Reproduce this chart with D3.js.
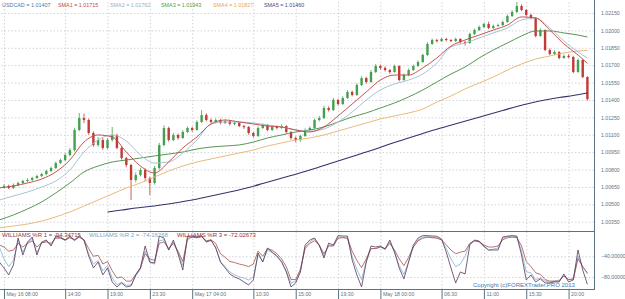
<!DOCTYPE html>
<html><head><meta charset="utf-8">
<script src="https://cdn.jsdelivr.net/npm/d3@7"></script>
<style>
body{margin:0;background:#fff}
svg{display:block}
text{font-family:"Liberation Sans",Arial,sans-serif}
</style>
</head><body>
<svg id="c" width="625" height="299"></svg>
<script>
// ---------------- DATA ----------------
const symbol = "USDCAD";
const firstCandle = new Date(2013, 4, 16, 7, 30);   // 30-minute candles
const open = [
1.00640,1.00649,1.00658,1.00641,1.00666,1.00684,1.00701,1.00710,1.00727,1.00744,
1.00761,1.00787,1.00813,1.00856,1.00882,1.00925,1.00968,1.01141,1.01244,1.01227,
1.01115,1.01011,1.01055,1.00986,1.01055,1.01098,1.00986,1.00899,1.00839,1.00710,
1.00753,1.00796,1.00727,1.00684,1.00813,1.01011,1.01158,1.01055,1.01098,1.01072,
1.01124,1.01158,1.01141,1.01210,1.01270,1.01227,1.01210,1.01227,1.01201,1.01218,
1.01193,1.01201,1.01175,1.01167,1.01115,1.01089,1.01158,1.01184,1.01141,1.01167,
1.01158,1.01175,1.01124,1.01072,1.01055,1.01089,1.01141,1.01158,1.01227,1.01244,
1.01331,1.01313,1.01400,1.01365,1.01417,1.01469,1.01443,1.01529,1.01589,1.01555,
1.01641,1.01693,1.01676,1.01658,1.01641,1.01693,1.01572,1.01615,1.01658,1.01693,
1.01727,1.01788,1.01883,1.01917,1.01908,1.01926,1.01917,1.01908,1.01926,1.01900,
1.01891,1.01969,1.02003,1.02029,1.02055,1.02021,1.02038,1.02046,1.02072,1.02124,
1.02159,1.02210,1.02176,1.02133,1.02107,1.01952,1.02003,1.01831,1.01796,1.01814,
1.01762,1.01779,1.01770,1.01641,1.01745,1.01598];
const high = [
1.00668,1.00672,1.00670,1.00680,1.00695,1.00712,1.00724,1.00738,1.00756,1.00772,
1.00798,1.00826,1.00868,1.00895,1.00940,1.00985,1.01160,1.01288,1.01282,1.01240,
1.01130,1.01080,1.01070,1.01070,1.01167,1.01110,1.01000,1.00910,1.00850,1.00775,
1.00815,1.00810,1.00740,1.00830,1.01030,1.01180,1.01170,1.01115,1.01110,1.01140,
1.01172,1.01170,1.01225,1.01313,1.01285,1.01240,1.01240,1.01238,1.01232,1.01228,
1.01215,1.01210,1.01185,1.01175,1.01125,1.01172,1.01198,1.01192,1.01180,1.01180,
1.01190,1.01182,1.01130,1.01085,1.01100,1.01155,1.01172,1.01240,1.01262,1.01350,
1.01345,1.01418,1.01410,1.01432,1.01485,1.01480,1.01545,1.01605,1.01600,1.01658,
1.01710,1.01705,1.01690,1.01668,1.01705,1.01700,1.01628,1.01672,1.01705,1.01740,
1.01800,1.01898,1.01930,1.01928,1.01938,1.01935,1.01925,1.01938,1.01932,1.01910,
1.01982,1.02015,1.02042,1.02068,1.02075,1.02050,1.02058,1.02085,1.02138,1.02175,
1.02245,1.02225,1.02185,1.02145,1.02115,1.02018,1.02010,1.01845,1.01828,1.01822,
1.01792,1.01795,1.01780,1.01758,1.01752,1.01605];
const low = [
1.00625,1.00638,1.00630,1.00632,1.00655,1.00676,1.00690,1.00702,1.00718,1.00735,
1.00750,1.00778,1.00805,1.00846,1.00870,1.00915,1.00955,1.01130,1.01200,1.01100,
1.00995,1.00998,1.00970,1.00975,1.01040,1.00975,1.00885,1.00820,1.00537,1.00690,
1.00740,1.00700,1.00580,1.00670,1.00800,1.01000,1.01040,1.01045,1.01058,1.01065,
1.01115,1.01125,1.01135,1.01200,1.01215,1.01198,1.01200,1.01190,1.01192,1.01180,
1.01182,1.01165,1.01150,1.01100,1.01075,1.01080,1.01150,1.01130,1.01132,1.01145,
1.01150,1.01110,1.01058,1.01035,1.01040,1.01080,1.01130,1.01150,1.01215,1.01235,
1.01300,1.01305,1.01350,1.01355,1.01408,1.01430,1.01435,1.01520,1.01540,1.01548,
1.01632,1.01660,1.01645,1.01625,1.01635,1.01560,1.01565,1.01605,1.01650,1.01685,
1.01720,1.01780,1.01875,1.01895,1.01900,1.01905,1.01898,1.01900,1.01885,1.01870,
1.01885,1.01960,1.01995,1.02020,1.02010,1.02012,1.02030,1.02038,1.02065,1.02115,
1.02150,1.02165,1.02120,1.02095,1.01940,1.01945,1.01820,1.01785,1.01788,1.01750,
1.01755,1.01760,1.01630,1.01635,1.01588,1.01395];
const close = [
1.00649,1.00658,1.00641,1.00666,1.00684,1.00701,1.00710,1.00727,1.00744,1.00761,
1.00787,1.00813,1.00856,1.00882,1.00925,1.00968,1.01141,1.01244,1.01227,1.01115,
1.01011,1.01055,1.00986,1.01055,1.01098,1.00986,1.00899,1.00839,1.00710,1.00753,
1.00796,1.00727,1.00684,1.00813,1.01011,1.01158,1.01055,1.01098,1.01072,1.01124,
1.01158,1.01141,1.01210,1.01270,1.01227,1.01210,1.01227,1.01201,1.01218,1.01193,
1.01201,1.01175,1.01167,1.01115,1.01089,1.01158,1.01184,1.01141,1.01167,1.01158,
1.01175,1.01124,1.01072,1.01055,1.01089,1.01141,1.01158,1.01227,1.01244,1.01331,
1.01313,1.01400,1.01365,1.01417,1.01469,1.01443,1.01529,1.01589,1.01555,1.01641,
1.01693,1.01676,1.01658,1.01641,1.01693,1.01572,1.01615,1.01658,1.01693,1.01727,
1.01788,1.01883,1.01917,1.01908,1.01926,1.01917,1.01908,1.01926,1.01900,1.01891,
1.01969,1.02003,1.02029,1.02055,1.02021,1.02038,1.02046,1.02072,1.02124,1.02159,
1.02210,1.02176,1.02133,1.02107,1.01952,1.02003,1.01831,1.01796,1.01814,1.01762,
1.01779,1.01770,1.01641,1.01745,1.01598,1.01407];

// moving averages, read at sampled candle indices
const smaIdx = [0,3,6,9,12,15,18,21,24,27,30,33,36,39,42,45,48,51,54,57,60,63,66,69,72,75,78,81,84,87,90,93,96,99,102,105,108,111,114,117,120,123,125];
const sma1 = [1.00641,1.00658,1.00684,1.00718,1.00779,1.00882,1.01037,1.01098,1.01081,1.00951,1.00830,1.00770,1.00865,1.00986,1.01081,1.01193,1.01227,1.01210,1.01193,1.01175,1.01167,1.01141,1.01124,1.01167,1.01262,1.01365,1.01469,1.01572,1.01615,1.01615,1.01676,1.01762,1.01865,1.01917,1.01960,1.02003,1.02046,1.02116,1.02107,1.02003,1.01883,1.01788,1.01715];
const sma2 = [1.00537,1.00572,1.00606,1.00649,1.00701,1.00796,1.00951,1.01055,1.01098,1.01046,1.00925,1.00856,1.00865,1.00943,1.01055,1.01193,1.01210,1.01210,1.01201,1.01184,1.01167,1.01141,1.01132,1.01150,1.01210,1.01296,1.01400,1.01486,1.01538,1.01572,1.01624,1.01719,1.01857,1.01891,1.01934,1.01978,1.02021,1.02090,1.02107,1.02021,1.01909,1.01814,1.01762];
const sma3 = [1.00365,1.00408,1.00460,1.00520,1.00598,1.00684,1.00779,1.00830,1.00865,1.00882,1.00899,1.00917,1.00934,1.00951,1.00977,1.00994,1.01003,1.01012,1.01037,1.01072,1.01098,1.01124,1.01141,1.01167,1.01210,1.01253,1.01288,1.01331,1.01374,1.01426,1.01486,1.01555,1.01624,1.01684,1.01762,1.01831,1.01891,1.01952,1.01995,1.01995,1.01978,1.01960,1.01943];
const sma4 = [1.00296,1.00313,1.00330,1.00356,1.00391,1.00434,1.00485,1.00537,1.00589,1.00641,1.00684,1.00736,1.00787,1.00830,1.00865,1.00891,1.00917,1.00943,1.00968,1.01003,1.01029,1.01055,1.01072,1.01098,1.01132,1.01167,1.01201,1.01236,1.01262,1.01288,1.01322,1.01382,1.01434,1.01495,1.01546,1.01598,1.01658,1.01710,1.01753,1.01779,1.01805,1.01822,1.01827];
const sma5Idx = [23,26,29,32,35,38,41,44,47,50,53,56,59,62,65,68,71,74,77,80,83,86,89,92,95,98,101,104,107,110,113,116,119,122,125];
const sma5 = [1.00434,1.00451,1.00468,1.00481,1.00498,1.00516,1.00537,1.00563,1.00589,1.00615,1.00645,1.00679,1.00714,1.00748,1.00783,1.00822,1.00861,1.00899,1.00938,1.00977,1.01020,1.01059,1.01098,1.01137,1.01171,1.01206,1.01240,1.01275,1.01309,1.01344,1.01374,1.01400,1.01421,1.01438,1.01460];

// Williams %R, one value per candle
const wr1 = [-51.0,-62.6,-76.1,-56.8,-4.6,-37.5,-12.4,-2.7,-37.5,-12.4,
-8.5,-20.1,-0.8,-2.7,-8.5,-0.8,-8.5,0,-8.5,-39.4,
-62.6,-51.0,-76.1,-62.6,-89.6,-99.3,-91.6,-99.3,-97.4,-76.1,
-62.6,-20.1,-51.0,-52.9,-0.8,-4.6,-27.8,-8.5,-35.5,-66.5,
-0.8,-0.8,-2.7,0,-12.4,-8.5,-24.0,-51.0,-62.6,-74.2,
-80.0,-83.8,-89.6,-95.4,-85.8,-33.6,-51.0,-24.0,-31.7,-39.4,
-51.0,-70.3,-99.3,-91.6,-70.3,-18.2,-8.5,-4.6,-18.2,-43.3,
-14.3,-18.2,0,-0.8,-0.8,-47.1,-76.1,-99.3,-51.0,-20.1,
-22.0,-20.1,-25.9,-8.5,-31.7,-62.6,-83.8,-51.0,-18.2,-4.6,
0,0,-0.8,-1.2,-6.6,-31.7,-62.6,-91.6,-70.3,-74.2,
-18.2,-8.5,-10.4,-20.1,-27.8,-27.8,-27.8,-2.7,-1.0,0,
-0.8,-37.5,-85.8,-76.1,-89.6,-83.8,-91.6,-91.6,-89.6,-89.6,
-74.2,-89.6,-85.8,-27.8,-66.5,-94.35];
const wr2 = [-22,-45,-60,-48,-8,-32,-14,-5,-33,-14,
-10,-18,-3,-4,-10,-3,-10,-2,-10,-35,
-55,-48,-68,-58,-82,-95,-90,-96,-95,-78,
-65,-30,-52,-55,-10,-8,-28,-12,-33,-58,
-8,-3,-4,-2,-12,-10,-22,-50,-60,-70,
-76,-80,-82,-86,-80,-38,-50,-28,-33,-40,
-50,-68,-92,-88,-68,-22,-12,-6,-20,-40,
-18,-20,-3,-3,-5,-40,-65,-85,-50,-25,
-25,-22,-27,-12,-32,-58,-75,-50,-22,-8,
-3,-2,-3,-4,-8,-25,-45,-60,-55,-40,
-15,-10,-12,-22,-28,-26,-24,-5,-2,-1,
-2,-30,-70,-72,-85,-82,-88,-90,-88,-86,
-78,-85,-84,-40,-60,-74.16];
const wr3 = [-18,-22,-30,-28,-15,-22,-15,-10,-22,-14,
-12,-15,-5,-5,-8,-4,-8,-3,-8,-25,
-40,-38,-55,-50,-68,-82,-80,-88,-88,-75,
-62,-35,-45,-48,-15,-12,-25,-15,-30,-50,
-5,-3,-4,-2,-10,-8,-15,-35,-42,-50,
-52,-55,-57,-60,-55,-30,-40,-25,-28,-35,
-45,-60,-85,-85,-65,-25,-15,-10,-18,-35,
-20,-20,-5,-4,-5,-30,-48,-62,-45,-25,
-25,-22,-25,-15,-28,-45,-58,-42,-22,-10,
-5,-3,-4,-5,-8,-18,-28,-35,-32,-30,
-15,-10,-12,-18,-22,-22,-20,-8,-4,-3,
-4,-20,-50,-60,-72,-75,-85,-88,-88,-88,
-78,-85,-84,-45,-60,-72.03];

const priceTicks = [1.02150,1.02000,1.01850,1.01700,1.01550,1.01400,1.01250,1.01100,1.00950,1.00800,1.00650,1.00500,1.00350];
const wrTicks = [-40,-80];
const timeTicks = [
  new Date(2013,4,16,8,0), new Date(2013,4,16,14,30), new Date(2013,4,16,19,0), new Date(2013,4,16,23,30),
  new Date(2013,4,17,4,0), new Date(2013,4,17,10,30), new Date(2013,4,17,15,0), new Date(2013,4,17,19,30),
  new Date(2013,4,18,0,0), new Date(2013,4,18,6,30), new Date(2013,4,18,11,0), new Date(2013,4,18,15,30),
  new Date(2013,4,18,20,0)];
const legendNames = ["USDCAD","SMA1","SMA2","SMA3","SMA4","SMA5"];
const legendValues = ["1.01407","1.01715","1.01762","1.01943","1.01827","1.01460"];
const wrNames = ["WILLIAMS %R 1","WILLIAMS %R 2","WILLIAMS %R 3"];
const wrValues = ["-94.34715","-74.16268","-72.02673"];
const copyright = "Copyright (c)FOREXTrader.PRO 2013";

// ---------------- STYLE ----------------
const W = 594, mainTop = 0, mainBot = 231, wrTop = 231, wrBot = 289;
const colUp = "#44a04e", colDown = "#c23a36";
const smaColors = ["#c24a45","#a3bfd0","#4f8f4a","#e9b673","#34336a"];
const legendColors = ["#4a78a8","#c24a45","#93b2c6","#47a047","#e8a852","#4a3f85"];
const wrColors = ["#5a3556","#7fb3d2","#a4504c"];
const wrLegendColors = ["#8b3a3a","#6fa8cc","#963232"];
const gridCol = "#cfd4da", axisCol = "#5a7282", labelCol = "#5e7386";

const svg = d3.select("#c");
const x = d3.scaleTime()
  .domain([new Date(2013,4,16,7,34,30), new Date(2013,4,18,22,42)])
  .range([0, W]);
const y = d3.scaleLinear().domain([1.00350, 1.02150]).range([221.7, 13]);
const yw = d3.scaleLinear().domain([9, -103.3]).range([wrTop, wrBot]);
const tOf = i => d3.timeMinute.offset(firstCandle, 30 * i);

const defs = svg.append("defs");
defs.append("clipPath").attr("id","cm").append("rect").attr("x",0).attr("y",mainTop).attr("width",W).attr("height",mainBot-mainTop);
defs.append("clipPath").attr("id","cw").append("rect").attr("x",0).attr("y",wrTop).attr("width",W).attr("height",wrBot-wrTop);

// grid: price levels
svg.append("g").attr("transform",`translate(${W},0)`)
  .call(d3.axisLeft(y).tickValues(priceTicks).tickSize(W).tickFormat(""))
  .call(g => g.select(".domain").remove())
  .call(g => g.selectAll("line").attr("stroke",gridCol).attr("stroke-dasharray","1.5,2"));
// grid: %R levels
svg.append("g").attr("transform",`translate(${W},0)`)
  .call(d3.axisLeft(yw).tickValues(wrTicks).tickSize(W).tickFormat(""))
  .call(g => g.select(".domain").remove())
  .call(g => g.selectAll("line").attr("stroke",gridCol).attr("stroke-dasharray","1.5,2"));
// grid: vertical time lines
[[mainTop,mainBot],[wrTop,wrBot]].forEach(([a,b]) => {
  svg.append("g").attr("transform",`translate(0,${b})`)
    .call(d3.axisBottom(x).tickValues(timeTicks).tickSize(-(b-a)).tickFormat(""))
    .call(g => g.select(".domain").remove())
    .call(g => g.selectAll("line").attr("stroke",gridCol).attr("stroke-dasharray","1.5,2"));
});

// candles
const main = svg.append("g").attr("clip-path","url(#cm)");
const idx = d3.range(close.length);
const bw = 2.4;
main.append("g").selectAll("line").data(idx).join("line")
  .attr("x1", i => x(tOf(i))).attr("x2", i => x(tOf(i)))
  .attr("y1", i => y(high[i])).attr("y2", i => y(low[i]))
  .attr("stroke", i => close[i] >= open[i] ? colUp : colDown).attr("stroke-width",0.8);
main.append("g").selectAll("rect").data(idx).join("rect")
  .attr("x", i => x(tOf(i)) - bw/2).attr("width", bw)
  .attr("y", i => y(Math.max(open[i], close[i])))
  .attr("height", i => Math.max(1, Math.abs(y(open[i]) - y(close[i]))))
  .attr("fill", i => close[i] >= open[i] ? colUp : colDown);

// moving averages
const smaLine = d3.line().x(d => x(tOf(d[0]))).y(d => y(d[1])).curve(d3.curveMonotoneX);
[[smaIdx,sma5,4],[smaIdx,sma4,3],[smaIdx,sma3,2],[smaIdx,sma2,1],[smaIdx,sma1,0]].forEach(([ix,vals,k]) => {
  const useIx = k === 4 ? sma5Idx : ix;
  main.append("path").datum(useIx.map((i, j) => [i, vals[j]]))
    .attr("d", smaLine).attr("fill","none").attr("stroke", smaColors[k])
    .attr("stroke-width", k === 4 ? 1.15 : 0.95);
});

// Williams %R
const wrG = svg.append("g").attr("clip-path","url(#cw)");
const wrLine = d3.line().x((d,i) => x(tOf(i))).y(d => yw(d));
[[wr2,1],[wr3,2],[wr1,0]].forEach(([vals,k]) => {
  wrG.append("path").datum(vals).attr("d", wrLine).attr("fill","none")
    .attr("stroke", wrColors[k]).attr("stroke-width", 0.8);
});

// frame lines
svg.append("line").attr("x1",0).attr("x2",W).attr("y1",mainBot+0.5).attr("y2",mainBot+0.5).attr("stroke",axisCol);
svg.append("line").attr("x1",0).attr("x2",W).attr("y1",wrBot+0.5).attr("y2",wrBot+0.5).attr("stroke",axisCol);
svg.append("line").attr("x1",W+0.5).attr("x2",W+0.5).attr("y1",0).attr("y2",wrBot+1).attr("stroke",axisCol);

// right axes labels
svg.append("g").attr("transform",`translate(${W+7},0)`)
  .call(d3.axisRight(y).tickValues(priceTicks).tickSize(0).tickPadding(0).tickFormat(d3.format(".5f")))
  .call(g => g.select(".domain").remove())
  .call(g => g.selectAll("text").attr("fill",labelCol).attr("font-size","5.2px").attr("font-family","Liberation Sans, Arial, sans-serif"));
svg.append("g").attr("transform",`translate(${W+7},0)`)
  .call(d3.axisRight(yw).tickValues(wrTicks).tickSize(0).tickPadding(0).tickFormat(d3.format(".5f")))
  .call(g => g.select(".domain").remove())
  .call(g => g.selectAll("text").attr("fill",labelCol).attr("font-size","5.2px").attr("font-family","Liberation Sans, Arial, sans-serif"));

// bottom time axis
let prevDay = null;
const fmtFull = d3.timeFormat("%b %d %H:%M"), fmtTime = d3.timeFormat("%H:%M");
const labels = timeTicks.map(t => { const dd = t.getDate(); const s = (dd !== prevDay) ? fmtFull(t) : fmtTime(t); prevDay = dd; return s; });
svg.append("g").attr("transform",`translate(0,${wrBot+0.5})`)
  .call(d3.axisBottom(x).tickValues(timeTicks).tickSize(10).tickPadding(0).tickFormat((d,i) => labels[i]))
  .call(g => g.select(".domain").remove())
  .call(g => g.selectAll("line").attr("stroke",axisCol))
  .call(g => g.selectAll("text").attr("text-anchor","start").attr("x",2).attr("y",2.5).attr("dy","0.71em")
     .attr("fill",labelCol).attr("font-size","5.2px").attr("font-family","Liberation Sans, Arial, sans-serif"));

// legends
const legX = [2, 58, 110, 161, 213, 264];
svg.append("g").selectAll("text").data(legendNames).join("text")
  .attr("x",(d,i) => legX[i]).attr("y",7.2).attr("font-size","5.4px")
  .attr("fill",(d,i) => legendColors[i]).text((d,i) => `${d} = ${legendValues[i]}`);
const wrLegX = [2, 89, 177];
svg.append("g").selectAll("text").data(wrNames).join("text")
  .attr("x",(d,i) => wrLegX[i]).attr("y",237).attr("font-size","6px")
  .attr("fill",(d,i) => wrLegendColors[i]).text((d,i) => `${d} = ${wrValues[i]}`);
svg.append("text").attr("x",473).attr("y",287).attr("font-size","6px").attr("fill","#4a78a8").text(copyright);
</script>
</body></html>
